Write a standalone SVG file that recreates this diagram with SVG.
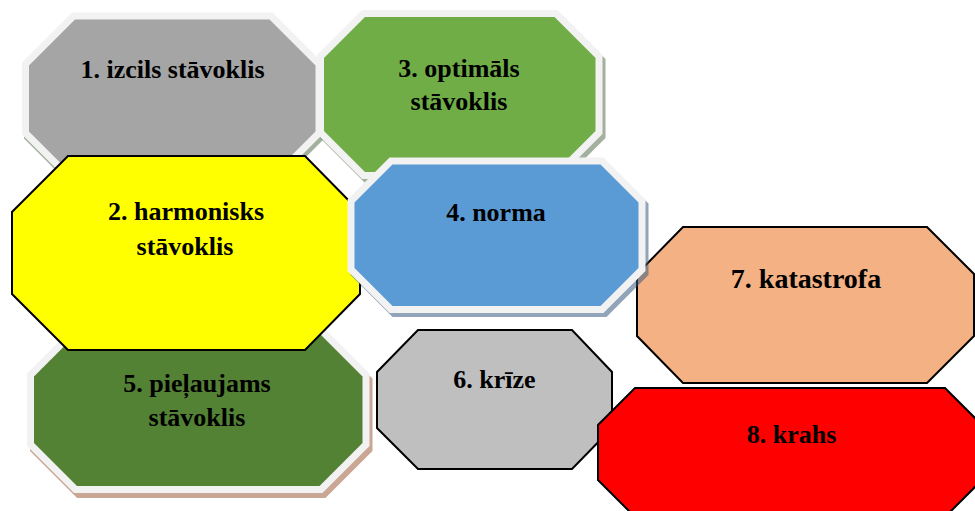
<svg xmlns="http://www.w3.org/2000/svg" width="975" height="511" viewBox="0 0 975 511">
<style>
.bord{stroke:#f2f2f2;stroke-width:7;stroke-linejoin:miter}
.sh{stroke-width:7;stroke-linejoin:miter;opacity:0.55}
.blk{stroke:#000;stroke-width:2;stroke-linejoin:miter}
text{font-family:'Liberation Serif','Times New Roman',serif;font-weight:bold;font-size:26px;fill:#000;text-anchor:middle}
</style>
<rect width="975" height="511" fill="#fff"/>
<g font-family="Liberation Serif, serif" font-weight="bold" font-size="26" text-anchor="middle">
<g id="node1">
<polygon class="sh" fill="#5a7050" stroke="#5a7050" transform="translate(2,4)" points="73.5,16 271,16 319,64 319,133 271,181 73.5,181 25.5,133 25.5,64"/>
<polygon class="bord" fill="#a5a5a5" points="73.5,16 271,16 319,64 319,133 271,181 73.5,181 25.5,133 25.5,64"/>
<text x="172.5" y="78">1. izcils stāvoklis</text>
</g>
<g id="node3">
<polygon class="sh" fill="#5a7050" stroke="#5a7050" transform="translate(3,4)" points="363.5,13.5 556,13.5 599,56.5 599,132.5 556,175.5 363.5,175.5 320.5,132.5 320.5,56.5"/>
<polygon class="bord" fill="#70ad47" points="363.5,13.5 556,13.5 599,56.5 599,132.5 556,175.5 363.5,175.5 320.5,132.5 320.5,56.5"/>
<text x="459" y="77">3. optimāls</text>
<text x="459" y="110">stāvoklis</text>
</g>
<g id="node5">
<polygon class="sh" fill="#a06040" stroke="#a06040" transform="translate(3,5)" points="75.5,330 321,330 366,375 366,444.5 321,489.5 75.5,489.5 30.5,444.5 30.5,375"/>
<polygon class="bord" fill="#548235" points="75.5,330 321,330 366,375 366,444.5 321,489.5 75.5,489.5 30.5,444.5 30.5,375"/>
<text x="197" y="392">5. pieļaujams</text>
<text x="197" y="426">stāvoklis</text>
</g>
<g id="node2">
<polygon class="blk" fill="#ffff00" points="68,156 305,156 360,212 360,294 305,350 68,350 12,294 12,212"/>
<text x="186" y="220">2. harmonisks</text>
<text x="185" y="255">stāvoklis</text>
</g>
<g id="node7">
<polygon class="blk" fill="#f4b183" points="683,227 927,227 974,274 974,336 927,383 683,383 637,336 637,274"/>
<text x="806" y="288" style="font-size:28px">7. katastrofa</text>
</g>
<g id="node4">
<polygon class="sh" fill="#3a5a80" stroke="#3a5a80" transform="translate(3,4)" points="391,161 602,161 642,201 642,269.5 602,309.5 391,309.5 351,269.5 351,201"/>
<polygon class="bord" fill="#5b9bd5" points="391,161 602,161 642,201 642,269.5 602,309.5 391,309.5 351,269.5 351,201"/>
<text x="496" y="221">4. norma</text>
</g>
<g id="node6">
<polygon class="blk" fill="#bfbfbf" points="418,330 572,330 612,372 612,428 572,469 418,469 377,428 377,372"/>
<text x="494.5" y="388">6. krīze</text>
</g>
<g id="node8">
<polygon class="blk" fill="#ff0000" points="635,388 945,388 982,425 982,480 945,517 635,517 598,480 598,425"/>
<text x="791.5" y="443">8. krahs</text>
</g>
</g>
<g id="connectors"></g>
</svg>
